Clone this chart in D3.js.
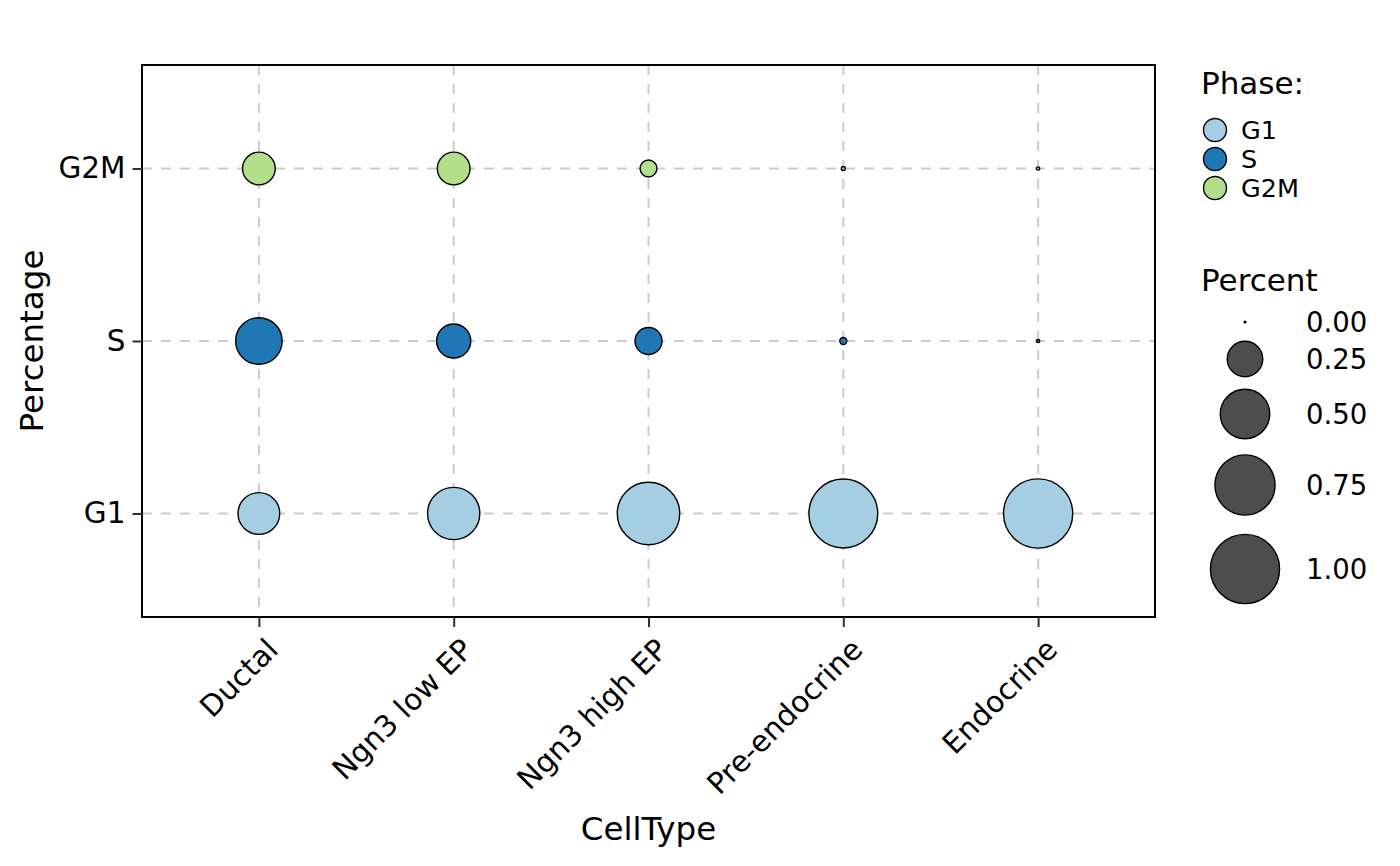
<!DOCTYPE html>
<html><head><meta charset="utf-8">
<script src="https://cdn.jsdelivr.net/npm/d3@7"></script>
<style>body{margin:0;background:#fff}svg{display:block}text{font-family:"DejaVu Sans",sans-serif;fill:#000}</style>
</head><body><svg id="c" width="1400" height="866"></svg>
<script>
const categories = ["Ductal","Ngn3 low EP","Ngn3 high EP","Pre-endocrine","Endocrine"];
const phases = ["G1","S","G2M"];
const G1 = [0.35, 0.56, 0.81, 0.99, 0.999];
const S = [0.44, 0.23, 0.14, 0.006, 0.0005];
const G2M = [0.21, 0.21, 0.05, 0.001, 0.0005];
const phaseColors = ["#a6cee3","#1f78b4","#b2df8a"];
const sizeBreaks = [0, 0.25, 0.5, 0.75, 1.0];
const sizeLabels = ["0.00","0.25","0.50","0.75","1.00"];

const series = {G1, S, G2M};
const data = [];
phases.forEach(p => categories.forEach((c,i) => data.push({cat:c, phase:p, v:series[p][i]})));

const svg = d3.select("#c");
const L = 142, R = 1155, T = 65, B = 617;

const x = d3.scalePoint().domain(categories).range([L, R]).padding(0.6);
const y = d3.scalePoint().domain(phases).range([B, T]).padding(0.6);
const r = d3.scaleSqrt().domain([0,1]).range([0.9, 34.6]);
const col = d3.scaleOrdinal().domain(phases).range(phaseColors);

// grid
const g = svg.append("g");
g.selectAll(".gx").data(categories).join("line")
  .attr("x1", d=>x(d)).attr("x2", d=>x(d)).attr("y1", T).attr("y2", B)
  .attr("stroke", "#cccccc").attr("stroke-width", 2).attr("stroke-dasharray", "10,9");
g.selectAll(".gy").data(phases).join("line")
  .attr("y1", d=>y(d)).attr("y2", d=>y(d)).attr("x1", L).attr("x2", R)
  .attr("stroke", "#cccccc").attr("stroke-width", 2).attr("stroke-dasharray", "10,9");

// points
svg.append("g").selectAll("circle").data(data).join("circle")
  .attr("cx", d=>x(d.cat)).attr("cy", d=>y(d.phase)).attr("r", d=>r(d.v))
  .attr("fill", d=>col(d.phase)).attr("stroke", "#000").attr("stroke-width", 1.4);

// border
svg.append("rect").attr("x", L).attr("y", T).attr("width", R-L).attr("height", B-T)
  .attr("fill", "none").attr("stroke", "#000").attr("stroke-width", 2);

// axes
const xa = svg.append("g").attr("transform", `translate(0,${B})`)
  .call(d3.axisBottom(x).tickSize(10).tickPadding(0).tickFormat(""));
xa.select(".domain").remove();
xa.selectAll(".tick line").attr("stroke", "#333").attr("stroke-width", 2);
xa.selectAll(".tick").append("text")
  .attr("text-anchor", "end")
  .attr("transform", "translate(5,19) rotate(-45)")
  .attr("dy", "0.74em")
  .style("font-size", "29.5px").style("fill","#000")
  .text(d=>d);

const ya = svg.append("g").attr("transform", `translate(${L},0)`)
  .call(d3.axisLeft(y).tickSize(9.5).tickPadding(7));
ya.select(".domain").remove();
ya.selectAll(".tick line").attr("stroke", "#333").attr("stroke-width", 2);
ya.selectAll(".tick text").style("font-size", "29.5px").style("fill","#000")
  .attr("font-family", "DejaVu Sans");

svg.append("text").attr("x", (L+R)/2).attr("y", 840).attr("text-anchor", "middle")
  .style("font-size", "32.5px").text("CellType");
svg.append("text").attr("transform", `translate(43,${(T+B)/2}) rotate(-90)`)
  .attr("text-anchor", "middle").style("font-size", "32.5px").text("Percentage");

// legend: phase
const lg = svg.append("g");
lg.append("text").attr("x", 1201).attr("y", 94).style("font-size", "31px").text("Phase:");
const keyY = [130, 159, 188];
lg.selectAll(".pk").data(phases).join("circle")
  .attr("cx", 1215).attr("cy", (d,i)=>keyY[i]).attr("r", 11.5)
  .attr("fill", d=>col(d)).attr("stroke", "#000").attr("stroke-width", 1.4);
lg.selectAll(".pl").data(phases).join("text")
  .attr("x", 1241).attr("y", (d,i)=>keyY[i]).attr("dy", "0.36em")
  .style("font-size", "25.5px").text(d=>d);

// legend: percent
lg.append("text").attr("x", 1201).attr("y", 291).style("font-size", "31px").text("Percent");
const sizeY = [322, 359, 414, 485, 569];
lg.selectAll(".sk").data(sizeBreaks).join("circle")
  .attr("cx", 1245).attr("cy", (d,i)=>sizeY[i]).attr("r", d=>r(d))
  .attr("fill", "#4d4d4d").attr("stroke", "#000").attr("stroke-width", 1.4);
lg.selectAll(".sl").data(sizeLabels).join("text")
  .attr("x", 1306).attr("y", (d,i)=>sizeY[i]).attr("dy", "0.36em")
  .style("font-size", "27.5px").text(d=>d);
</script></body></html>
